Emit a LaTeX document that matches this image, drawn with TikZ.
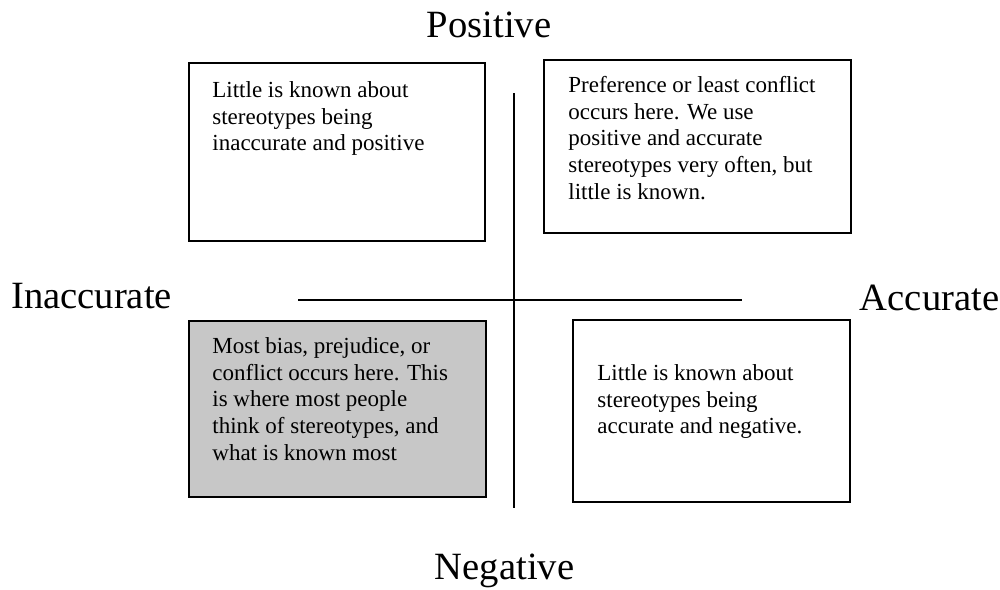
\documentclass[tikz,border=0pt]{standalone}
\usepackage{fontspec}
\setmainfont{Liberation Serif}
\usepackage{tikz}
\usetikzlibrary{positioning,calc}
\tikzset{
  quad/.style={draw, line width=1pt, rectangle, inner sep=0pt},
  quadgray/.style={quad, fill=black!22},
  quadtext/.style={inner sep=0pt, align=left, anchor=north west, font=\fontsize{11.5}{13.35}\selectfont},
  axislabel/.style={inner sep=0pt, anchor=base, font=\fontsize{19.3}{22}\selectfont},
  axisline/.style={line width=1pt}
}

\begin{document}
\begin{tikzpicture}[x=0.5pt,y=-0.5pt]
  \useasboundingbox (0,0) rectangle (1000,589);
  % quadrants
  \node[quad, minimum width=148pt, minimum height=89pt] (posinacc) at (337,152) {};
  \node[quad, minimum width=153.5pt, minimum height=86.5pt] (posacc) at (697.5,146.5) {};
  \node[quadgray, minimum width=148.5pt, minimum height=88pt] (neginacc) at (337.5,409) {};
  \node[quad, minimum width=138.5pt, minimum height=91pt] (negacc) at (711.5,411) {};
  \node[quadtext] (posinacc-t) at ([shift={(24,19)}]posinacc.north west)
    {Little is known about\\stereotypes being\\inaccurate and positive};
  \node[quadtext] (posacc-t) at ([shift={(25,17)}]posacc.north west)
    {Preference or least conflict\\occurs here. We use\\positive and accurate\\stereotypes very often, but\\little is known.};
  \node[quadtext] (neginacc-t) at ([shift={(24,17)}]neginacc.north west)
    {Most bias, prejudice, or\\conflict occurs here. This\\is where most people\\think of stereotypes, and\\what is known most};
  \node[quadtext] (negacc-t) at ([shift={(25,45)}]negacc.north west)
    {Little is known about\\stereotypes being\\accurate and negative.};
  % axes
  \coordinate (vtop) at (514,93);
  \coordinate (vbot) at (514,508);
  \coordinate (hleft) at (298,300);
  \coordinate (hright) at (742,300);
  \draw[axisline] (vtop) -- (vbot);
  \draw[axisline] (hleft) -- (hright);
  \node[axislabel] (pos) at (489,37) {Positive};
  \node[axislabel] (neg) at (504.5,579) {Negative};
  \node[axislabel] (inacc) at (91.5,308) {Inaccurate};
  \node[axislabel] (acc) at (929.5,310) {Accurate};
\end{tikzpicture}
\end{document}
